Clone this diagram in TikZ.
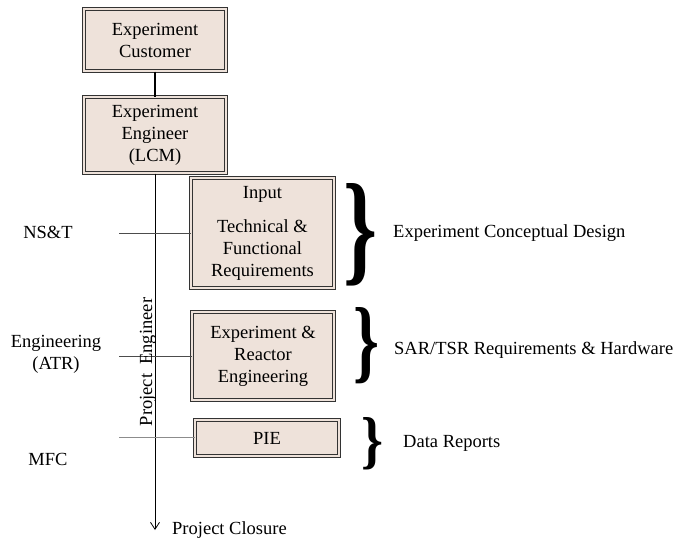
\documentclass[tikz,border=0pt]{standalone}
\usepackage{fontspec}
\setmainfont{Liberation Serif}
\usetikzlibrary{arrows.meta}
\definecolor{boxfill}{RGB}{238,226,218}
\begin{document}
\begin{tikzpicture}[x=1pt,y=-1pt,
  every node/.style={font=\fontsize{18.5}{22}\selectfont, inner sep=0pt},
  dbox/.style={draw=black!80, line width=1pt, double=boxfill, double distance=1.6pt,
    fill=boxfill, align=center},
  lbl/.style={align=center},
  hline/.style={draw=black!70, line width=0.8pt},
  brc/.style={inner sep=0pt}]
\useasboundingbox (0,0) rectangle (676,542);
% boxes
\node[dbox, minimum width=142pt, minimum height=62pt] (cust) at (155,40) {Experiment\\Customer};
\node[dbox, minimum width=142pt, minimum height=76pt] (eng) at (155,135) {Experiment\\Engineer\\(LCM)};
\node[dbox, minimum width=143pt, minimum height=110pt] (inp) at (262.5,233) {Input\\[12pt]Technical \&\\Functional\\Requirements};
\node[dbox, minimum width=142pt, minimum height=88pt] (reac) at (263,356) {Experiment \&\\Reactor\\Engineering};
\node[dbox, minimum width=144pt, minimum height=36pt] (pie) at (267,438) {PIE};
% connectors
\coordinate (closure) at (155,530);
\draw[line width=2pt] (cust) -- (eng);
\draw[line width=0.8pt, -{Straight Barb[length=7pt,width=9pt]}] (eng.south) -- (closure);
\coordinate (l1) at (119,233);
\coordinate (l2) at (119,356);
\coordinate (l3) at (119,437);
\draw[hline] (l1) -- (inp.west);
\draw[hline] (l2) -- (reac.west);
\draw[hline, draw=black!45] (l3) -- (pie.west |- l3);
% left labels
\node[lbl] (nst) at (48,232) {NS\&T};
\node[lbl] (atr) at (56,354) {Engineering\\(ATR)};
\node[lbl] (mfc) at (48,459) {MFC};
\node[rotate=90] (pe) at (148,362) {Project~~Engineer};
\node[anchor=west] (pc) at (172,530) {Project Closure};
% braces
\node[brc] (b1) at (360.5,235) {\resizebox{34pt}{86pt}{\bfseries\}}};
\node[brc] (b2) at (366,346) {\resizebox{26pt}{64pt}{\bfseries\}}};
\node[brc] (b3) at (372.5,444) {\resizebox{22pt}{44pt}{\bfseries\}}};
% right labels
\node[anchor=west] (r1) at (393,233) {Experiment Conceptual Design};
\node[anchor=west] (r2) at (394,350) {SAR/TSR Requirements \& Hardware};
\node[anchor=west] (r3) at (403,443) {Data Reports};
\end{tikzpicture}
\end{document}
